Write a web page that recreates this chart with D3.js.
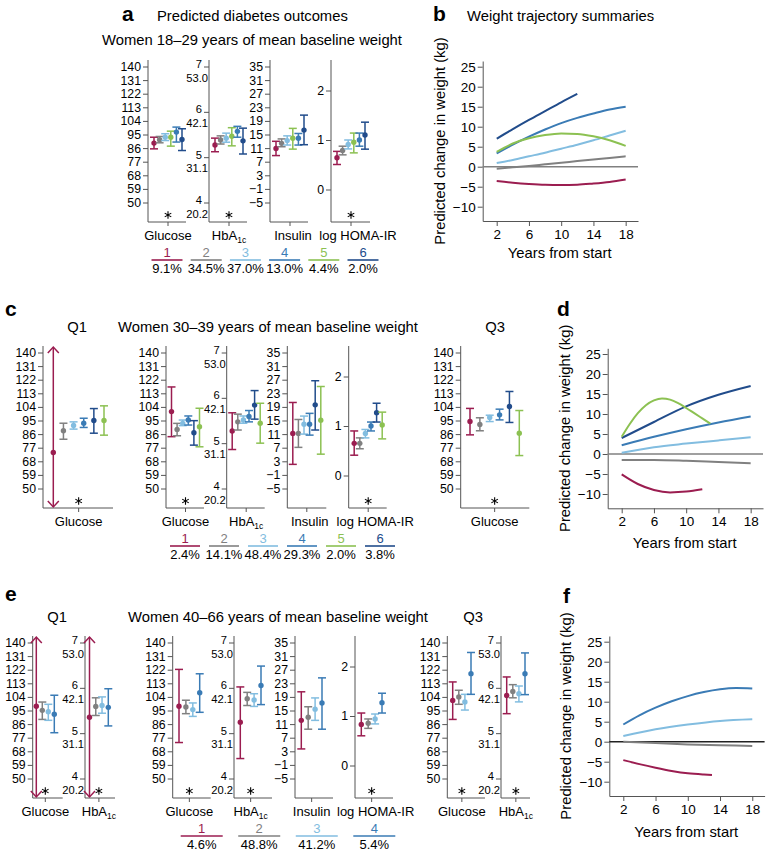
<!DOCTYPE html>
<html><head><meta charset="utf-8">
<script src="https://cdn.jsdelivr.net/npm/d3@7"></script>
<style>
body{margin:0;background:#fff;}
text{font-family:"Liberation Sans",Arial,Helvetica,sans-serif;}
</style>
</head><body>
<svg id="chart" width="766" height="850"></svg>
<script>
// ---------------- DATA ----------------
const classColor = {1:"#9b1d50",2:"#808080",3:"#82bde0",4:"#3a7bb5",5:"#8cc152",6:"#214c8b"};

const glucoseTicks = [50,59,68,77,86,95,104,113,122,131,140];
const hba1cTicks = [4,5,6,7];
const hba1cMmolLabels = ["20.2","31.1","42.1","53.0"];
const insulinTicks = [-5,-1,3,7,11,15,19,23,27,31,35];
const homaTicks = [0,1,2];
const weightTicks = [-10,-5,0,5,10,15,20,25];
const yearTicks = [2,6,10,14,18];

// Panel a: women 18-29 ([mean, lower, upper])
const aClasses = [1,2,3,5,4,6];
const aGlucose = [[89.3,85.5,93.2],[91.5,89.5,93.7],[93.2,91.0,95.5],[93.2,87.3,97.2],[96.6,90.0,99.9],[91.7,84.4,98.8]];
const aHbA1c = [[5.27,5.12,5.42],[5.38,5.29,5.47],[5.42,5.33,5.53],[5.46,5.25,5.65],[5.57,5.44,5.68],[5.36,5.07,5.64]];
const aInsulin = [[10.9,8.8,13.0],[12.4,11.4,13.7],[13.2,11.9,14.6],[13.9,10.7,16.8],[13.9,11.9,15.3],[16.3,12.0,20.7]];
const aHoma = [[0.64,0.505,0.77],[0.79,0.70,0.875],[0.91,0.82,1.00],[0.956,0.74,1.14],[1.00,0.875,1.14],[1.10,0.815,1.36]];
const aLegendClasses = [1,2,3,4,5,6];
const aLegendPct = ["9.1%","34.5%","37.0%","13.0%","4.4%","2.0%"];

// Panel b: weight trajectories, women 18-29
const bYears = [2,4,6,8,10,12,14,16,18];
const bYears6 = [2,4,6,8,10,12];
const bClass1 = [-3.6,-4.0,-4.3,-4.5,-4.55,-4.5,-4.2,-3.8,-3.2];
const bClass2 = [-0.5,-0.15,0.2,0.6,1.0,1.4,1.8,2.2,2.6];
const bClass3 = [0.9,1.7,2.6,3.5,4.5,5.5,6.6,7.8,9.0];
const bClass4 = [3.3,5.5,7.5,9.3,10.9,12.2,13.3,14.3,15.0];
const bClass5 = [3.7,5.8,7.1,7.9,8.3,8.2,7.6,6.6,5.2];
const bClass6 = [7.0,9.4,11.7,13.9,16.1,18.2];

// Panel c: women 30-39
const cClasses = [1,2,3,4,6,5];
const cQ1Glucose = [[73.8,null,null],[88.2,82.6,93.2],[91.7,89.3,94.1],[93.2,90.4,96.5],[95.0,86.6,102.9],[95.0,85.3,104.7]];
const cGlucose = [[100.9,84.3,117.2],[89.1,84.9,93.1],[93.1,91.6,95.3],[95.3,92.0,98.0],[86.9,78.7,94.9],[90.9,77.6,103.1]];
const cHbA1c = [[5.27,4.86,5.67],[5.47,5.29,5.64],[5.51,5.44,5.60],[5.59,5.47,5.72],[5.84,5.53,6.16],[5.44,5.00,5.88]];
const cInsulin = [[11.2,2.1,20.3],[11.2,7.1,15.3],[13.9,11.0,16.3],[13.9,10.7,17.1],[19.6,12.2,26.7],[15.1,5.1,25.0]];
const cHoma = [[0.65,0.41,0.90],[0.65,0.54,0.76],[0.85,0.76,0.93],[1.00,0.90,1.08],[1.27,1.08,1.46],[1.02,0.74,1.28]];
const cQ3Glucose = [[94.3,85.5,103.0],[92.4,88.2,96.8],[97.0,94.3,98.5],[98.75,95.4,102.5],[104.3,93.7,114.2],[86.6,71.8,101.6]];
const cLegendClasses = [1,2,3,4,5,6];
const cLegendPct = ["2.4%","14.1%","48.4%","29.3%","2.0%","3.8%"];

// Panel d: weight trajectories, women 30-39
const dYears = [2,6,10,14,18];
const dYears1 = [2,4,6,8,10,12];
const dYears5 = [2,3,4,5,6,7,8,9,10,11,12,13];
const dClass1 = [-5.1,-7.5,-9.0,-9.6,-9.4,-8.8];
const dClass2 = [-1.5,-1.5,-1.7,-2.0,-2.3];
const dClass3 = [0.3,1.7,2.6,3.4,4.2];
const dClass4 = [2.2,4.3,6.2,7.9,9.4];
const dClass5 = [4.3,7.5,10.2,12.2,13.4,13.9,13.6,12.7,11.5,10.2,8.9,7.6];
const dClass6 = [4.0,8.0,11.9,14.8,17.0];

// Panel e: women 40-66
const eClasses = [1,2,3,4];
const eQ1Glucose = [[97.8,null,null],[95.1,89.1,100.6],[94.2,88.5,99.1],[92.5,80.3,105.1]];
const eQ1HbA1c = [[5.35,null,null],[5.59,5.39,5.78],[5.61,5.44,5.80],[5.57,5.16,5.98]];
const eGlucose = [[97.8,73.8,122.2],[97.3,92.9,101.8],[95.6,91.1,100.0],[106.7,93.8,119.3]];
const eHbA1c = [[5.24,4.44,6.02],[5.76,5.61,5.90],[5.73,5.59,5.87],[6.05,5.63,6.48]];
const eInsulin = [[12.1,3.7,20.5],[13.0,9.5,16.1],[15.4,12.1,18.7],[17.2,9.5,24.6]];
const eHoma = [[0.83,0.60,1.06],[0.855,0.75,0.94],[0.94,0.84,1.04],[1.27,1.06,1.46]];
const eQ3Glucose = [[101.7,89.1,113.9],[104.0,99.1,108.4],[100.6,95.3,105.7],[119.4,105.7,133.4]];
const eQ3HbA1c = [[5.83,5.43,6.24],[5.92,5.78,6.07],[5.87,5.69,6.04],[6.31,5.85,6.77]];
const eLegendPct = ["4.6%","48.8%","41.2%","5.4%"];

// Panel f: weight trajectories, women 40-66
const fYears = [2,6,10,14,18];
const fYears1 = [2,4,6,8,10,12,13];
const fYears4 = [2,4,6,8,10,12,14,16,18];
const fClass1 = [-4.6,-5.6,-6.5,-7.3,-7.9,-8.2,-8.3];
const fClass2 = [0,-0.35,-0.7,-0.9,-1.05];
const fClass3 = [1.4,3.1,4.3,5.2,5.6];
const fClass4 = [4.3,6.6,8.5,10.1,11.4,12.4,13.1,13.4,13.3];

// ---------------- DRAWING ----------------
const svg = d3.select("#chart");
const axisColor = "#555";
const H = 162;
const fmt = d => d < 0 ? "\u2212" + Math.abs(d) : String(d);

const measures = {
  glucose: {domain:[50,140], r:[142.5,6.5], ticks:glucoseTicks},
  hba1c:   {domain:[4,7],    r:[142.5,6.5], ticks:hba1cTicks, second:hba1cMmolLabels},
  insulin: {domain:[-5,35],  r:[142.5,6.5], ticks:insulinTicks},
  homa:    {domain:[0,2],    r:[129.5,30.5], ticks:homaTicks}
};

function txt(x, y, s, o = {}) {
  return svg.append("text").attr("x", x).attr("y", y).text(s)
    .attr("font-size", o.size || 14.8)
    .attr("font-weight", o.bold ? "bold" : null)
    .attr("text-anchor", o.anchor || "start")
    .attr("fill", o.fill || "#000");
}

function subplot(top, cfg, classes, data) {
  const m = measures[cfg.measure];
  const y = d3.scaleLinear().domain(m.domain).range([top + m.r[0], top + m.r[1]]);
  const x = d3.scalePoint().domain(classes).range([cfg.x0 + cfg.p0, cfg.x0 + cfg.p1]);
  const cx = cfg.x0 + (cfg.p0 + cfg.p1) / 2;
  const g = svg.append("g");
  const ax = g.append("g").attr("transform", `translate(${cfg.x0},0)`)
    .call(d3.axisLeft(y).tickValues(m.ticks).tickSize(5).tickPadding(2).tickFormat(fmt));
  ax.select(".domain").remove();
  ax.selectAll(".tick line").attr("stroke", axisColor);
  ax.selectAll(".tick text").attr("font-size", 12.3).attr("fill", "#000");
  if (m.second) {
    ax.selectAll(".tick text").attr("font-size", 11.2).attr("y", -2.5);
    ax.selectAll(".tick").each(function(d) {
      const i = m.ticks.indexOf(d);
      d3.select(this).append("text").attr("x", -1).attr("y", 11).attr("dy", "0.32em")
        .attr("text-anchor", "end").attr("fill", "#000").attr("font-size", 11.2).text(m.second[i]);
    });
  }
  g.append("line").attr("x1", cfg.x0).attr("x2", cfg.x0).attr("y1", top).attr("y2", top + H)
    .attr("stroke", axisColor);
  g.append("line").attr("x1", cfg.x0).attr("x2", cfg.x0 + cfg.w).attr("y1", top + H).attr("y2", top + H)
    .attr("stroke", axisColor);
  g.append("line").attr("x1", cx).attr("x2", cx).attr("y1", top + H).attr("y2", top + H + 4)
    .attr("stroke", axisColor);

  const items = classes.map((c, i) => ({c, mean: data[i][0], lo: data[i][1], hi: data[i][2]}));
  const cap = 4;
  items.forEach(d => {
    const px = x(d.c), col = classColor[d.c];
    if (d.lo == null) {
      const y1 = top + 1, y2 = top + H - 1;
      g.append("line").attr("x1", px).attr("x2", px).attr("y1", y1).attr("y2", y2)
        .attr("stroke", col).attr("stroke-width", 1.5);
      g.append("path").attr("d", `M${px-5.5},${y1+6}L${px},${y1}L${px+5.5},${y1+6}`)
        .attr("fill", "none").attr("stroke", col).attr("stroke-width", 1.5);
      g.append("path").attr("d", `M${px-5.5},${y2-6}L${px},${y2}L${px+5.5},${y2-6}`)
        .attr("fill", "none").attr("stroke", col).attr("stroke-width", 1.5);
    } else {
      g.append("line").attr("x1", px).attr("x2", px).attr("y1", y(d.lo)).attr("y2", y(d.hi))
        .attr("stroke", col).attr("stroke-width", 1.5);
      [d.lo, d.hi].forEach(v => {
        g.append("line").attr("x1", px - cap).attr("x2", px + cap).attr("y1", y(v)).attr("y2", y(v))
          .attr("stroke", col).attr("stroke-width", 1.5);
      });
    }
    g.append("circle").attr("cx", px).attr("cy", y(d.mean)).attr("r", 2.7).attr("fill", col);
  });

  if (cfg.star) {
    if (d3.symbolAsterisk) {
      g.append("path").attr("d", d3.symbol(d3.symbolAsterisk, 40)())
        .attr("transform", `translate(${cx},${top + 155})`)
        .attr("fill", "none").attr("stroke", "#000").attr("stroke-width", 1.1);
    } else {
      g.append("text").attr("x", cx).attr("y", top + 161).attr("text-anchor", "middle")
        .attr("font-size", 16).text("*");
    }
  }
  if (cfg.label) {
    const t = g.append("text").attr("x", cx + (cfg.lx || 0)).attr("y", top + 180)
      .attr("text-anchor", "middle").attr("font-size", 13).attr("fill", "#000");
    if (cfg.measure === "hba1c") {
      t.append("tspan").text("HbA");
      t.append("tspan").attr("font-size", 8.5).attr("dy", 3).text("1c");
    } else t.text(cfg.label);
  }
}

function legend(top, classes, pcts, x0, x1, halfW) {
  const x = d3.scalePoint().domain(classes).range([x0, x1]);
  const by = top + 197;
  classes.forEach((c, i) => {
    txt(x(c), by, String(c), {size: 13, anchor: "middle", fill: classColor[c]});
    svg.append("line").attr("x1", x(c) - halfW).attr("x2", x(c) + halfW)
      .attr("y1", by + 3).attr("y2", by + 3).attr("stroke", classColor[c]).attr("stroke-width", 1.6);
    txt(x(c), by + 15.5, pcts[i], {size: 13, anchor: "middle"});
  });
}

function traj(L, T, series, zeroColor, xlabDy) {
  const x = d3.scaleLinear().domain([0.263, 19.53]).range([L, L + 155.3]);
  const y = d3.scaleLinear().domain([-13.575, 26.425]).range([T + 160, T]);
  const ay = svg.append("g").attr("transform", `translate(${L},0)`)
    .call(d3.axisLeft(y).tickValues(weightTicks).tickSize(5).tickSizeOuter(0).tickPadding(2).tickFormat(fmt));
  const ab = svg.append("g").attr("transform", `translate(0,${T + 160})`)
    .call(d3.axisBottom(x).tickValues(yearTicks).tickSize(5).tickSizeOuter(0).tickPadding(3));
  [ay, ab].forEach(a => {
    a.selectAll("path,line").attr("stroke", axisColor);
    a.selectAll("text").attr("font-size", 13.5).attr("fill", "#000");
  });
  svg.append("line").attr("x1", x.range()[0]).attr("x2", x.range()[1])
    .attr("y1", y(0)).attr("y2", y(0)).attr("stroke", zeroColor).attr("stroke-width", 1.4);
  const line = d3.line().x(d => x(d[0])).y(d => y(d[1])).curve(d3.curveMonotoneX);
  series.forEach(s => {
    svg.append("path").datum(s.years.map((yr, i) => [yr, s.vals[i]]))
      .attr("d", line).attr("fill", "none").attr("stroke", classColor[s.c]).attr("stroke-width", 2);
  });
  txt(0, 0, "Predicted change in weight (kg)", {anchor: "middle"})
    .attr("transform", `translate(${L - 38},${T + 80}) rotate(-90)`);
  txt(L + 77, T + 160 + xlabDy, "Years from start", {anchor: "middle"});
}

// ---- Panel a ----
txt(122, 21, "a", {bold: true, size: 21});
txt(157, 21, "Predicted diabetes outcomes");
txt(102, 45, "Women 18\u201329 years of mean baseline weight");
const aTop = 60;
subplot(aTop, {x0:148, w:38, p0:6, p1:34, measure:"glucose", star:true, label:"Glucose"}, aClasses, aGlucose);
subplot(aTop, {x0:209, w:38, p0:6, p1:34, measure:"hba1c", star:true, label:"HbA1c"}, aClasses, aHbA1c);
subplot(aTop, {x0:270, w:38, p0:6, p1:34, measure:"insulin", star:false, label:"Insulin", lx:3}, aClasses, aInsulin);
subplot(aTop, {x0:331, w:39, p0:6, p1:34, measure:"homa", star:true, label:"log HOMA-IR", lx:7}, aClasses, aHoma);
legend(aTop, aLegendClasses, aLegendPct, 167, 363, 15.5);

// ---- Panel b ----
txt(433, 21, "b", {bold: true, size: 21});
txt(467, 21, "Weight trajectory summaries");
traj(482.7, 61, [
  {c:2, years:bYears, vals:bClass2},
  {c:1, years:bYears, vals:bClass1},
  {c:3, years:bYears, vals:bClass3},
  {c:4, years:bYears, vals:bClass4},
  {c:5, years:bYears, vals:bClass5},
  {c:6, years:bYears6, vals:bClass6}
], "#808080", 37);

// ---- Panel c ----
txt(5, 316, "c", {bold: true, size: 21});
txt(77, 332, "Q1", {anchor: "middle"});
txt(118, 332, "Women 30\u201339 years of mean baseline weight");
txt(495, 332, "Q3", {anchor: "middle"});
const cTop = 346;
subplot(cTop, {x0:43, w:70, p0:10.3, p1:61, measure:"glucose", star:true, label:"Glucose"}, cClasses, cQ1Glucose);
subplot(cTop, {x0:166, w:38, p0:5.5, p1:33.5, measure:"glucose", star:true, label:"Glucose"}, cClasses, cGlucose);
subplot(cTop, {x0:226.7, w:38, p0:5.5, p1:33.5, measure:"hba1c", star:false, label:"HbA1c"}, cClasses, cHbA1c);
subplot(cTop, {x0:287.3, w:39, p0:5.5, p1:33.5, measure:"insulin", star:false, label:"Insulin", lx:3}, cClasses, cInsulin);
subplot(cTop, {x0:348.7, w:38, p0:5.5, p1:33.5, measure:"homa", star:true, label:"log HOMA-IR", lx:7}, cClasses, cHoma);
subplot(cTop, {x0:460.7, w:68.6, p0:9.3, p1:58.6, measure:"glucose", star:true, label:"Glucose"}, cClasses, cQ3Glucose);
legend(cTop, cLegendClasses, cLegendPct, 185, 380, 15);

// ---- Panel d ----
txt(557, 316, "d", {bold: true, size: 21});
traj(607.7, 348.3, [
  {c:2, years:dYears, vals:dClass2},
  {c:1, years:dYears1, vals:dClass1},
  {c:3, years:dYears, vals:dClass3},
  {c:4, years:dYears, vals:dClass4},
  {c:6, years:dYears, vals:dClass6},
  {c:5, years:dYears5, vals:dClass5}
], "#808080", 40);

// ---- Panel e ----
txt(5, 601, "e", {bold: true, size: 21});
txt(57, 621.5, "Q1", {anchor: "middle"});
txt(128, 621.5, "Women 40\u201366 years of mean baseline weight");
txt(473, 621.5, "Q3", {anchor: "middle"});
const eTop = 636;
subplot(eTop, {x0:32.7, w:30, p0:3.6, p1:21.6, measure:"glucose", star:true, label:"Glucose"}, eClasses, eQ1Glucose);
subplot(eTop, {x0:85, w:30, p0:4.5, p1:23.3, measure:"hba1c", star:true, label:"HbA1c"}, eClasses, eQ1HbA1c);
subplot(eTop, {x0:172.7, w:38, p0:6.3, p1:27, measure:"glucose", star:true, label:"Glucose"}, eClasses, eGlucose);
subplot(eTop, {x0:234, w:38, p0:6.3, p1:27, measure:"hba1c", star:true, label:"HbA1c"}, eClasses, eHbA1c);
subplot(eTop, {x0:295, w:38, p0:6.3, p1:27, measure:"insulin", star:false, label:"Insulin"}, eClasses, eInsulin);
subplot(eTop, {x0:355, w:38, p0:6.3, p1:27, measure:"homa", star:true, label:"log HOMA-IR", lx:4}, eClasses, eHoma);
subplot(eTop, {x0:447.3, w:37.7, p0:5.4, p1:23.7, measure:"glucose", star:true, label:"Glucose"}, eClasses, eQ3Glucose);
subplot(eTop, {x0:501, w:29, p0:5.7, p1:24, measure:"hba1c", star:true, label:"HbA1c"}, eClasses, eQ3HbA1c);
legend(eTop, eClasses, eLegendPct, 201.7, 374.3, 21);

// ---- Panel f ----
txt(563, 603, "f", {bold: true, size: 21});
traj(609.3, 636, [
  {c:2, years:fYears, vals:fClass2},
  {c:1, years:fYears1, vals:fClass1},
  {c:3, years:fYears, vals:fClass3},
  {c:4, years:fYears4, vals:fClass4}
], "#222", 41);
</script>
</body></html>
